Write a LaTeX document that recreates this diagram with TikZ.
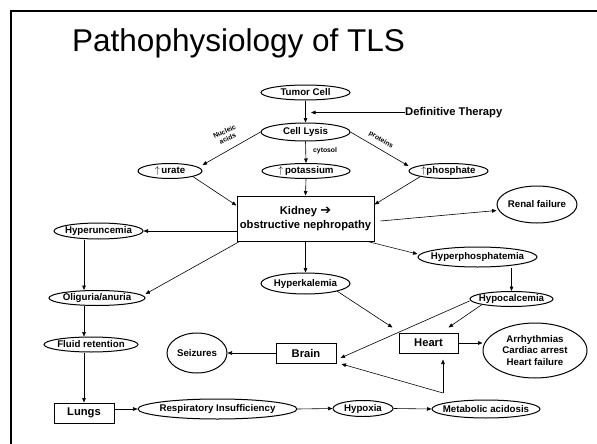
\documentclass[tikz,border=0pt]{standalone}
\usepackage{fontspec}
\setmainfont{Liberation Sans}
\newfontfamily\dvfont{DejaVu Sans}
\usetikzlibrary{shapes.geometric,arrows.meta}
\newcommand\zb[1]{\makebox[0pt]{#1}}
\newcommand\nf{\fontsize{9.7}{11.6}\selectfont\bfseries}
\newcommand\bxf{\fontsize{11.2}{14}\selectfont\bfseries}
\newcommand\sfnt{\fontsize{6.8}{7.4}\selectfont\bfseries}
\begin{document}
\begin{tikzpicture}[x=1pt,y=-1pt,
  ell/.style={ellipse,draw,line width=1pt,inner sep=0pt,font=\nf},
  boxnode/.style={rectangle,draw,line width=1pt,inner sep=0pt,font=\bxf},
  arr/.style={line width=0.6pt,-{Triangle[length=4.5pt,width=3.6pt]}},
  lbl/.style={font=\sfnt,inner sep=0pt}]
\useasboundingbox (0,0) rectangle (597,444);
% frame
\draw[line width=2pt] (11,446) -- (11,11) -- (599,11);
% title
\node[anchor=base west,inner sep=0pt,font=\fontsize{31.5}{36}\selectfont] (title) at (72,52) {Pathophysiology of TLS};

% nodes
\node[ell,minimum width=89,minimum height=15] (tumor) at (305.5,92.5) {\zb{Tumor Cell}};
\node[ell,minimum width=89,minimum height=18] (lysis) at (305.5,132) {\zb{Cell Lysis}};
\node[anchor=west,inner sep=0pt,font=\bxf] (therapy) at (405,112.5) {Definitive Therapy};
\coordinate (tp) at (311,112.5);
\node[ell,minimum width=64,minimum height=15] (urate) at (170,171) {\zb{$\uparrow$\,urate}};
\node[ell,minimum width=88,minimum height=15] (potas) at (306,171) {\zb{$\uparrow$\,potassium}};
\node[ell,minimum width=79,minimum height=15] (phos) at (448.5,171) {\zb{$\uparrow$phosphate}};
\node[boxnode,minimum width=137,minimum height=45,align=center] (kidney) at (305.5,218.5) {Kidney {\dvfont\bfseries\fontsize{13}{14}\selectfont ➔}\\obstructive nephropathy};
\node[ell,minimum width=80,minimum height=37] (renal) at (537,204.5) {\zb{Renal failure}};
\node[ell,minimum width=89,minimum height=16] (hyperu) at (98.5,231) {\zb{Hyperuncemia}};
\node[ell,minimum width=119,minimum height=20] (hyperp) at (477.5,257) {\zb{Hyperphosphatemia}};
\node[ell,minimum width=89,minimum height=21] (hyperk) at (305.5,283.5) {\zb{Hyperkalemia}};
\node[ell,minimum width=83,minimum height=15] (hypoc) at (511.5,299) {\zb{Hypocalcemia}};
\node[ell,minimum width=96,minimum height=15] (olig) at (97,298) {\zb{Oliguria/anuria}};
\node[ell,minimum width=94,minimum height=15] (fluid) at (91,344.5) {\zb{Fluid retention}};
\node[ell,minimum width=60,minimum height=40] (seiz) at (197,353) {\zb{Seizures}};
\node[boxnode,minimum width=60,minimum height=20] (brain) at (306,353) {Brain};
\node[boxnode,minimum width=59,minimum height=20] (heart) at (428.5,343) {Heart};
\node[ell,minimum width=104,minimum height=55,align=center] (arrh) at (535,350.5) {Arrhythmias\\Cardiac arrest\\Heart failure};
\node[boxnode,minimum width=60,minimum height=20] (lungs) at (84,413) {Lungs};
\node[ell,minimum width=159,minimum height=20] (resp) at (217.5,409) {\zb{Respiratory Insufficiency}};
\node[ell,minimum width=60,minimum height=16] (hypox) at (363,408.5) {\zb{Hypoxia}};
\node[ell,minimum width=108,minimum height=18] (metab) at (486,409) {\zb{Metabolic acidosis}};
\coordinate (j) at (443,393);

% labels
\node[lbl,align=center,rotate=25] (nuc) at (226,135) {Nucleic\\acids};
\node[lbl,rotate=-30] (prot) at (381,140) {proteins};
\node[lbl,anchor=west] (cyto) at (313,151) {cytosol};

% connectors
\draw[arr] (tumor.south) -- (lysis.north);
\draw[arr] (therapy.west) -- (tp);
\draw[arr] (lysis.west) -- ([yshift=6pt]urate.east);
\draw[arr] (lysis.east) -- ([yshift=5pt]phos.west);
\draw[arr] (lysis.south) -- (potas.north);
\draw[arr] (urate.south east) -- ([yshift=-10pt]kidney.north west);
\draw[arr] (potas.south) -- (kidney.north);
\draw[arr] (phos.south west) -- ([yshift=-9pt]kidney.north east);
\draw[arr] ([shift={(6pt,-2.5pt)}]kidney.east) -- ([yshift=-6pt]renal.west);
\draw[arr] ([xshift=-7pt]kidney.south east) -- ([yshift=3pt]hyperp.west);
\draw[arr] (kidney.south) -- (hyperk.north);
\draw[arr] (kidney.west |- hyperu.east) -- (hyperu.east);
\draw[arr] ([xshift=3pt]kidney.south west) -- ([yshift=4pt]olig.east);
\draw[arr] ([xshift=-14.5pt]hyperu.south) -- ([xshift=-14.5pt]hyperu.south |- olig.north);
\draw[arr] ([xshift=-14.5pt]hyperu.south |- olig.south) -- ([xshift=-14.5pt]hyperu.south |- fluid.north);
\draw[arr] (lungs.north |- fluid.south) -- (lungs.north);
\draw[arr] (lungs.east |- resp.west) -- (resp.west);
\draw[arr] (resp.east) -- (hypox.west);
\draw[arr] (hypox.east) -- (metab.west);
\draw[arr] (hypoc.north |- hyperp.south) -- (hypoc.north);
\draw[arr] (hyperk.south east) -- ([shift={(-6pt,5pt)}]heart.north west);
\draw[arr] (hypoc.south west) -- ([shift={(-10pt,5pt)}]heart.north east);
\draw[arr] ([yshift=-2pt]hypoc.west) -- ([shift={(4pt,-5pt)}]brain.east);
\draw[arr] (j) -- ([yshift=-6pt]j |- heart.south);
\draw[arr] (j) -- ([shift={(5pt,-11pt)}]brain.east);
\draw[arr] (heart.east) -- (heart.east -| arrh.west);
\draw[arr] (brain.west) -- (seiz.east);
\end{tikzpicture}
\end{document}
